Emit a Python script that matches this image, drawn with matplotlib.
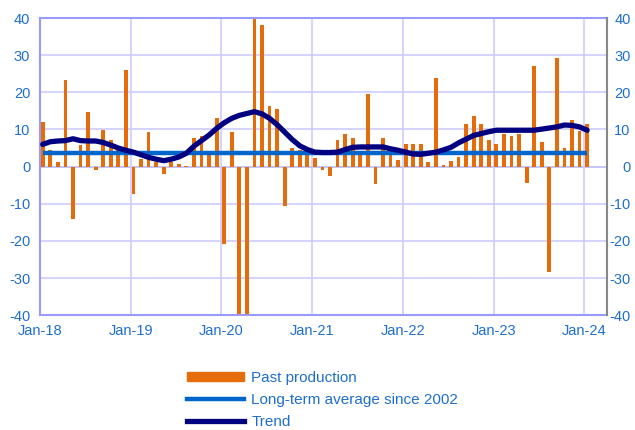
import matplotlib.pyplot as plt
import matplotlib.patches as mpatches
from matplotlib.lines import Line2D
import numpy as np

plt.rcParams['font.family'] = ['Liberation Sans', 'DejaVu Sans']
plt.rcParams['axes.unicode_minus'] = False

# monthly values Jan-18 .. Jan-24
past_production = [12.1, 4.4, 1.2, 23.4, -14.0, 5.7, 14.8, -0.9, 9.8, 7.1, 5.3, 26.1,
                   -7.4, 2.1, 9.3, 1.2, -2.0, 1.2, 0.7, 0.3, 7.8, 8.3, 3.0, 13.2,
                   -20.9, 9.3, -45.0, -45.0, 41.0, 38.1, 16.3, 15.4, -10.6, 5.1, 4.5, 3.3,
                   2.3, -0.8, -2.4, 7.1, 8.9, 7.8, 3.0, 19.6, -4.7, 7.8, 3.0, 1.8,
                   6.0, 6.0, 6.0, 1.2, 23.9, 0.5, 1.6, 2.5, 11.4, 13.6, 11.4, 7.1,
                   6.0, 8.9, 8.2, 8.9, -4.5, 27.2, 6.6, -28.5, 29.3, 5.1, 12.5, 9.5,
                   11.4]
trend = [6.0, 6.7, 6.9, 7.0, 7.5, 7.0, 6.9, 6.9, 6.5, 5.8, 5.0, 4.4,
         3.9, 3.2, 2.5, 2.0, 1.6, 2.0, 2.6, 3.6, 5.5, 7.0, 8.5, 10.3,
         11.8, 13.0, 13.8, 14.3, 14.8, 14.2, 13.0, 11.3, 9.3, 7.3, 5.6, 4.6,
         3.9, 3.8, 3.8, 3.9, 4.6, 5.2, 5.3, 5.3, 5.3, 5.3, 4.8, 4.4,
         3.9, 3.4, 3.3, 3.6, 3.9, 4.5, 5.2, 6.4, 7.4, 8.4, 8.9, 9.4,
         9.8, 9.8, 9.8, 9.8, 9.8, 9.8, 10.1, 10.4, 10.7, 11.2, 11.1, 10.7,
         9.8]
long_term_avg = 3.7
tick_labels = ['Jan-18', 'Jan-19', 'Jan-20', 'Jan-21', 'Jan-22', 'Jan-23', 'Jan-24']

orange = '#E46C0A'
lt_blue = '#0066CC'
navy = '#000080'
txt = '#1F6FD0'
grid_c = '#CCCCFF'
frame_c = '#9999FF'

x = np.arange(len(past_production)) + 0.36

fig = plt.figure(figsize=(6.35, 4.3), dpi=100)
ax = fig.add_axes([0.063, 0.267, 0.893, 0.691])

ax.bar(x, past_production, width=0.5, color=orange, zorder=2)
ax.plot(x, [long_term_avg] * len(x), color=lt_blue, lw=3.2, zorder=3, solid_capstyle='butt')
ax.plot(x, trend, color=navy, lw=3.8, zorder=4, solid_capstyle='round')

ax.set_xlim(0, 75)
ax.set_ylim(-40, 40)
ax.set_yticks(range(-40, 41, 10))
ax.set_xticks(range(0, 73, 12))
ax.set_xticklabels(tick_labels)
ax.grid(True, color=grid_c, lw=1.2, zorder=0)
ax.axhline(0, color=frame_c, lw=1.2, zorder=1)

for s in ['left', 'top', 'bottom']:
    ax.spines[s].set_color(frame_c)
    ax.spines[s].set_linewidth(1.5)
ax.spines['right'].set_visible(False)

ax.tick_params(axis='both', length=0, labelsize=10.5, colors=txt, pad=6)
ax.tick_params(axis='y', pad=7)

# right-hand axis with the same scale
ax2 = ax.twinx()
ax2.set_ylim(ax.get_ylim())
ax2.set_yticks(range(-40, 41, 10))
for s in ['left', 'top', 'bottom']:
    ax2.spines[s].set_visible(False)
ax2.spines['right'].set_color('#888888')
ax2.spines['right'].set_linewidth(1.5)
ax2.tick_params(axis='y', length=0, labelsize=10.5, colors=txt, pad=17)
for lab in ax2.get_yticklabels():
    lab.set_horizontalalignment('right')

handles = [mpatches.Rectangle((0, 0), 1, 1, color=orange),
           Line2D([0], [0], color=lt_blue, lw=3.2),
           Line2D([0], [0], color=navy, lw=3.8)]
labels = ['Past production', 'Long-term average since 2002', 'Trend']
leg = fig.legend(handles, labels, loc='upper left', bbox_to_anchor=(0.273, 0.17),
                 frameon=False, fontsize=11, handlelength=3.7, handleheight=0.55,
                 labelspacing=0.55, handletextpad=0.5, labelcolor=txt)

fig.savefig('out.png', dpi=100)
